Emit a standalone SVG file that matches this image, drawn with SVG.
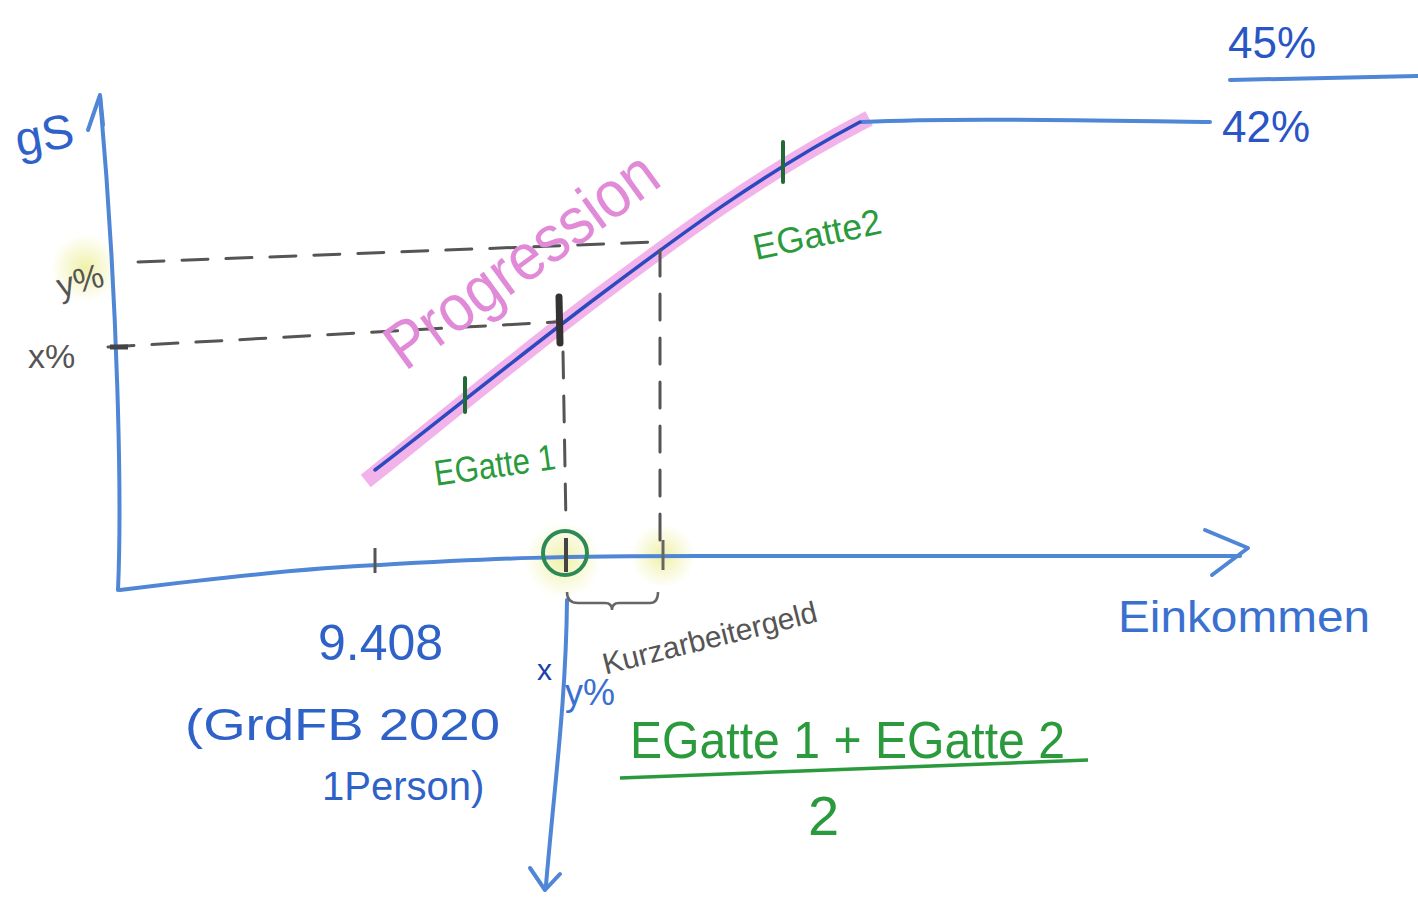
<svg xmlns="http://www.w3.org/2000/svg" width="1418" height="899" viewBox="0 0 1418 899">
<defs>
<radialGradient id="hl"><stop offset="0" stop-color="#eef0a0" stop-opacity="0.9"/><stop offset="1" stop-color="#eef0a0" stop-opacity="0"/></radialGradient>
<style>
.ax{fill:none;stroke:#4f86d6;stroke-width:4;stroke-linecap:round;stroke-linejoin:round}
.dk{fill:none;stroke:#2d49c0;stroke-width:3.5;stroke-linecap:round}
.dash{fill:none;stroke:#555;stroke-width:3;stroke-dasharray:26 18;stroke-linecap:round}
.gt{fill:none;stroke:#1f6b35;stroke-width:4;stroke-linecap:round}
.t{font-family:"Liberation Sans",Arial,sans-serif}
.blue{fill:#2f62c8}
.green{fill:#2a9a3c}
.gray{fill:#555}
</style>
</defs>
<rect width="1418" height="899" fill="#fff"/>
<g id="highlights">
<circle cx="85" cy="268" r="34" fill="url(#hl)"/>
<circle cx="563" cy="560" r="38" fill="url(#hl)"/>
<circle cx="663" cy="556" r="32" fill="url(#hl)"/>
</g>
<g id="progression-band">
<path d="M372,476 C430,430 520,355 600,295 C680,235 760,175 862,122" fill="none" stroke="#f2b3ea" stroke-width="16" stroke-linecap="square"/>
</g>
<g id="connectors">
<path class="ax" d="M118,590 C122,500 118,300 100,97"/>
<path class="ax" d="M88,130 L100,95 L103,125"/>
<path class="ax" d="M120,590 C200,580 300,568 380,565 C500,558 560,556 700,556 L1240,556"/>
<path class="ax" d="M1205,530 L1248,548 L1212,575"/>
<path class="ax" d="M567,600 C566,700 555,780 546,885"/>
<path class="ax" d="M530,868 L545,890 L560,874"/>
<path class="ax" d="M862,122 C950,118 1050,120 1210,122"/>
<path class="ax" d="M1230,80 L1418,76"/>
<path class="dk" d="M375,470 C430,428 520,355 600,295 C680,235 760,175 860,122"/>
<path class="dash" d="M138,262 L655,242"/>
<path class="dash" d="M660,250 L660,540"/>
<path class="dash" d="M108,347 L555,322"/>
<path class="dash" d="M563,352 L566,525"/>
<path d="M567,592 Q567,603 578,603 L605,603 Q612,603 612,610 Q612,603 619,603 L650,603 Q658,603 658,592" fill="none" stroke="#666" stroke-width="2.5"/>
</g>
<g id="ticks">
<path class="gt" d="M465,378 L465,412"/>
<path class="gt" d="M783,142 L783,182"/>
<path d="M559,297 L560,343" stroke="#333" stroke-width="7" stroke-linecap="round"/>
<path d="M110,347 L128,347" stroke="#444" stroke-width="5"/>
<path d="M375,548 L375,573" stroke="#555" stroke-width="3"/>
<path d="M663,540 L663,570" stroke="#666" stroke-width="3"/>
<circle cx="565" cy="553" r="22" fill="none" stroke="#2d8a55" stroke-width="4"/>
<path d="M566,538 L566,572" stroke="#444" stroke-width="4"/>
</g>
<g id="labels">
<text class="t blue" x="14" y="152" font-size="48" transform="rotate(-10 40 130)">gS</text>
<text class="t gray" x="55" y="292" font-size="34" transform="rotate(-15 80 275)">y%</text>
<text class="t gray" x="28" y="368" font-size="34">x%</text>
<text class="t" x="1228" y="58" font-size="44" fill="#2a55c4">45%</text>
<text class="t" x="1222" y="142" font-size="44" fill="#2a55c4">42%</text>
<text class="t" x="405" y="372" font-size="66" fill="#e08ad8" transform="rotate(-36 405 372)" textLength="320" lengthAdjust="spacingAndGlyphs">Progression</text>
<text class="t green" x="433" y="478" font-size="36" transform="rotate(-8 490 460)" textLength="122" lengthAdjust="spacingAndGlyphs">EGatte 1</text>
<text class="t green" x="750" y="248" font-size="36" transform="rotate(-12 810 225)" textLength="130" lengthAdjust="spacingAndGlyphs">EGatte2</text>
<text class="t gray" x="595" y="650" font-size="30" transform="rotate(-14 700 620)">Kurzarbeitergeld</text>
<text class="t" x="1118" y="632" font-size="44" fill="#3a70d0" textLength="252" lengthAdjust="spacingAndGlyphs">Einkommen</text>
<text class="t blue" x="318" y="660" font-size="50">9.408</text>
<text class="t blue" x="185" y="740" font-size="44" textLength="315" lengthAdjust="spacingAndGlyphs">(GrdFB 2020</text>
<text class="t blue" x="322" y="800" font-size="40">1Person)</text>
<text class="t" x="537" y="680" font-size="30" fill="#1d3fa8">x</text>
<text class="t" x="565" y="705" font-size="36" fill="#3a70d0">y%</text>
<text class="t green" x="630" y="758" font-size="52" textLength="435" lengthAdjust="spacingAndGlyphs">EGatte 1  + EGatte 2</text>
<path d="M620,778 L1088,760" stroke="#2a9a3c" stroke-width="3.5" fill="none"/>
<text class="t green" x="808" y="835" font-size="56">2</text>
</g>
</svg>
